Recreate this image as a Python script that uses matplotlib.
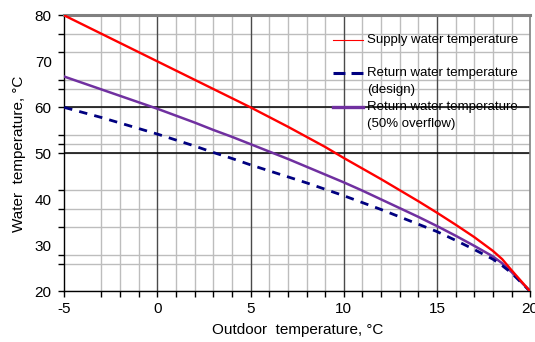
import numpy as np
import matplotlib.pyplot as plt
from matplotlib.lines import Line2D

plt.rcParams['font.family'] = ['Liberation Sans', 'DejaVu Sans']
plt.rcParams['axes.unicode_minus'] = False

# outdoor temperature, C
outdoor = [-5, -4, -3, -2, -1, 0, 1, 2, 3, 4, 5, 6, 7, 8, 9, 10,
           11, 12, 13, 14, 15, 16, 17, 18, 18.5, 19, 20]
# supply water temperature
supply = [80, 78, 76, 74, 72, 70, 68, 66, 64, 62, 60, 57.9, 55.8, 53.6, 51.4, 49.0,
          46.7, 44.4, 42.0, 39.6, 37.1, 34.5, 31.8, 28.8, 27.0, 24.6, 20]
# return water temperature (design)
return_design = [60, 58.9, 57.8, 56.6, 55.4, 54.2, 52.9, 51.6, 50.2, 48.9, 47.5, 46.2, 44.9, 43.6, 42.2, 40.8,
                 39.3, 37.8, 36.2, 34.6, 33.0, 31.1, 29.1, 27.0, 25.6, 24.0, 20]
# return water temperature (50% overflow)
return_overflow = [66.7, 65.3, 63.9, 62.5, 61.1, 59.7, 58.2, 56.7, 55.1, 53.6, 52.0, 50.4, 48.8, 47.1, 45.4, 43.7,
                   41.9, 40.0, 38.1, 36.2, 34.2, 32.1, 29.9, 27.6, 26.1, 24.2, 20]

x_major = [-5, 0, 5, 10, 15, 20]
x_minor = [-3, -2, -1, 1, 2, 3, 4, 6, 7, 8, 9, 11, 12, 13, 14, 16, 17, 18, 19]
x_dark = [0, 5, 10, 15]
y_labels = [20, 30, 40, 50, 60, 70, 80]
y_ticks = [20, 26, 28, 34, 38, 42, 50, 52, 54, 60, 64, 66, 72, 76, 80]
y_black = [50, 60]

legend_labels = [['Supply water temperature'],
                 ['Return water temperature', '(design)'],
                 ['Return water temperature', '(50% overflow)']]

fig = plt.figure(figsize=(5.35, 3.42), dpi=100)
ax = fig.add_axes([0.120, 0.148, 0.871, 0.807])

ax.set_xlim(-5, 20)
ax.set_ylim(20, 80)

# grid
ax.set_axisbelow(True)
ax.set_xticks(x_major)
ax.set_xticks(x_minor, minor=True)
ax.set_yticks(y_labels)
ax.set_yticks(y_ticks, minor=True)
ax.yaxis.remove_overlapping_locs = False
ax.grid(False)
ax.grid(which='minor', color='#bdbdbd', linewidth=1.0)
for xv in x_dark:
    ax.axvline(xv, color='#4a4a4a', linewidth=1.0, zorder=1)
for yv in y_black:
    ax.axhline(yv, color='black', linewidth=1.1, zorder=1)

ax.plot(outdoor, supply, color='#ff0000', linewidth=1.7, zorder=4)
ax.plot(outdoor, return_overflow, color='#7030a0', linewidth=1.8, zorder=3)
ax.plot(outdoor, return_design, color='#000080', linewidth=2.0,
        linestyle=(0, (3.0, 2.6)), zorder=3)

ax.tick_params(axis='y', which='major', length=0, pad=9, labelsize=11)
ax.tick_params(axis='y', which='minor', length=4, width=1, color='black')
ax.tick_params(axis='x', which='both', length=4, width=1, color='black')
ax.tick_params(axis='x', which='major', pad=4, labelsize=11)

for side in ['left', 'bottom']:
    ax.spines[side].set_color('black')
    ax.spines[side].set_linewidth(1.0)
ax.spines['top'].set_color('#808080')
ax.spines['top'].set_linewidth(2.2)
ax.spines['right'].set_color('#808080')
ax.spines['right'].set_linewidth(1.2)

ax.set_xlabel('Outdoor  temperature, °C', fontsize=11, labelpad=5)
ax.set_ylabel('Water  temperature, °C', fontsize=11, labelpad=6)

# legend drawn by hand so the handle sits on the first text line
handle_styles = [
    dict(color='#ff0000', linewidth=0.8),
    dict(color='#000080', linewidth=2.2, linestyle=(0, (3.9, 2.0))),
    dict(color='#7030a0', linewidth=2.4),
]
entry_y = [0.910, 0.791, 0.668]
line_step = 0.060
for y0, style, lines in zip(entry_y, handle_styles, legend_labels):
    ax.add_line(Line2D([0.577, 0.641], [y0, y0], transform=ax.transAxes,
                       zorder=5, **style))
    for k, txt in enumerate(lines):
        ax.text(0.650, y0 - k * line_step, txt, transform=ax.transAxes,
                fontsize=9.5, va='center', ha='left', zorder=5)

fig.savefig('out.png', dpi=100)
